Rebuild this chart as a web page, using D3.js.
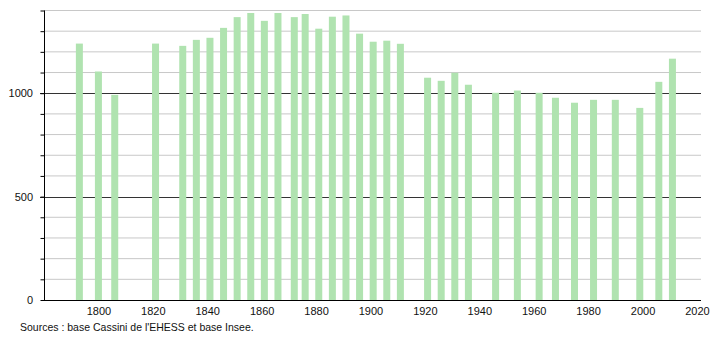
<!DOCTYPE html>
<html>
<head>
<meta charset="utf-8">
<script src="https://cdn.jsdelivr.net/npm/d3@7"></script>
<style>
  body { margin: 0; background: #fff; }
  text { font-family: "Liberation Sans", Arial, sans-serif; font-size: 11px; fill: #111; }
</style>
</head>
<body>
<script>
var years = [1793, 1800, 1806, 1821, 1831, 1836, 1841, 1846, 1851, 1856, 1861, 1866,
  1872, 1876, 1881, 1886, 1891, 1896, 1901, 1906, 1911, 1921, 1926, 1931, 1936,
  1946, 1954, 1962, 1968, 1975, 1982, 1990, 1999, 2006, 2011];
var population = [1240, 1105, 992, 1240, 1229, 1258, 1268, 1316, 1368, 1388, 1350, 1388,
  1368, 1383, 1312, 1370, 1376, 1288, 1249, 1254, 1239, 1075, 1060, 1099, 1041,
  1002, 1013, 1002, 978, 954, 968, 968, 929, 1055, 1167];
var xTicks = [1800, 1820, 1840, 1860, 1880, 1900, 1920, 1940, 1960, 1980, 2000, 2020];
var yLabels = [0, 500, 1000];
var source = "Sources : base Cassini de l'EHESS et base Insee.";

var svg = d3.select("body").append("svg").attr("width", 710).attr("height", 340);

var x = d3.scaleLinear().domain([1780, 2021.5]).range([44, 701]);
var y = d3.scaleLinear().domain([0, 1400]).range([300, 10.5]);
var barW = 7;

// minor grid every 100
svg.append("g").selectAll("line")
  .data(d3.range(100, 1401, 100).filter(function(v) { return v % 500 != 0; }))
  .enter().append("line")
  .attr("x1", 44).attr("x2", 701)
  .attr("y1", function(d) { return y(d); })
  .attr("y2", function(d) { return y(d); })
  .attr("stroke", "#c8c8c8").attr("stroke-width", 1);

// major grid at 500, 1000
svg.append("g").selectAll("line")
  .data([500, 1000])
  .enter().append("line")
  .attr("x1", 40).attr("x2", 701)
  .attr("y1", function(d) { return Math.round(y(d)) + 0.5; })
  .attr("y2", function(d) { return Math.round(y(d)) + 0.5; })
  .attr("stroke", "#333").attr("stroke-width", 1);

svg.append("g").selectAll("rect")
  .data(years)
  .enter().append("rect")
  .attr("x", function(d) { return x(d) - barW / 2; })
  .attr("y", function(d, i) { return y(population[i]); })
  .attr("width", barW)
  .attr("height", function(d, i) { return y(0) - y(population[i]); })
  .attr("fill", "#b0e3b0");

// y axis with ticks every 100
var yAxis = svg.append("g").attr("transform", "translate(44.5,0)")
  .call(d3.axisLeft(y).tickValues(d3.range(0, 1401, 100)).tickSize(4).tickFormat(""));
yAxis.select(".domain").attr("stroke", "#000").attr("d", "M0," + y(1400) + "V" + y(0));
yAxis.selectAll(".tick line").attr("stroke", "#000");

svg.append("g").selectAll("text")
  .data(yLabels)
  .enter().append("text")
  .attr("x", 33)
  .attr("y", function(d) { return y(d) + 4; })
  .attr("text-anchor", "end")
  .text(function(d) { return d; });

// x axis
var xAxis = svg.append("g").attr("transform", "translate(0,300.5)")
  .call(d3.axisBottom(x).tickValues(xTicks).tickSize(0).tickPadding(7).tickFormat(d3.format("d")));
xAxis.select(".domain").attr("stroke", "#000").attr("d", "M44,0H701");
xAxis.selectAll("text").style("font-size", "11px").attr("fill", "#111")
  .style("font-family", "Liberation Sans, Arial, sans-serif");

svg.append("text")
  .attr("x", 20).attr("y", 331)
  .style("font-size", "10.5px")
  .text(source);
</script>
</body>
</html>
